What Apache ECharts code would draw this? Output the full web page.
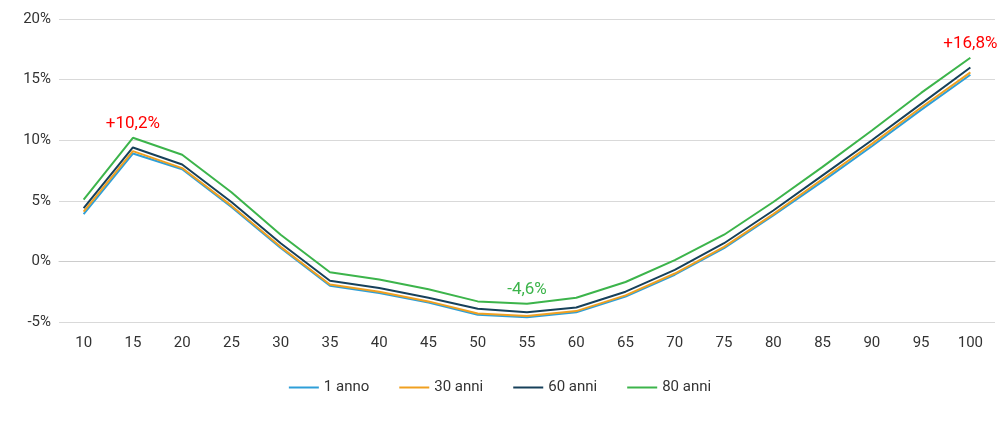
<!DOCTYPE html><html><head><meta charset="utf-8"><script src="https://cdn.jsdelivr.net/npm/echarts@6/dist/echarts.min.js"></script></head><body style="margin:0"><div id="c" style="width:1000px;height:440px"></div><script>
var categories=['10','15','20','25','30','35','40','45','50','55','60','65','70','75','80','85','90','95','100'];
var anno1=[3.9,8.9,7.6,4.5,1.1,-2.0,-2.6,-3.4,-4.4,-4.6,-4.2,-2.9,-1.1,1.1,3.8,6.6,9.5,12.5,15.4];
var anni30=[4.1,9.1,7.7,4.6,1.2,-1.9,-2.5,-3.3,-4.3,-4.5,-4.1,-2.8,-1.0,1.2,3.9,6.8,9.7,12.7,15.6];
var anni60=[4.4,9.4,8.0,4.9,1.5,-1.6,-2.2,-3.0,-3.9,-4.2,-3.8,-2.5,-0.7,1.5,4.2,7.1,10.0,13.0,16.0];
var anni80=[5.1,10.2,8.8,5.7,2.2,-0.9,-1.5,-2.3,-3.3,-3.5,-3.0,-1.7,0.1,2.2,4.9,7.8,10.8,13.9,16.8];
var notes={1:['+10,2%','#ff0000'],9:['-4,6%','#3cb44b'],18:['+16,8%','#ff0000']};
var d80=anni80.map(function(v,i){var n=notes[i];return n?{value:v,label:{show:true,position:'top',distance:6,formatter:n[0],color:n[1],fontSize:17,fontFamily:'Roboto'}}:v;});
function s(name,data,color){return {name:name,type:'line',data:data,symbol:'circle',symbolSize:0,showSymbol:true,lineStyle:{width:2,color:color},itemStyle:{color:color}};}
var c=echarts.init(document.getElementById('c'));
c.setOption({animation:false,textStyle:{fontFamily:'Roboto'},
grid:{left:59,right:5,top:19,bottom:118},
legend:{bottom:40,left:'center',itemWidth:30,itemHeight:2,itemGap:30,icon:'rect',textStyle:{fontSize:15,color:'#333'}},
xAxis:{type:'category',data:categories,axisTick:{show:false},axisLine:{lineStyle:{color:'#ccc'}},axisLabel:{fontSize:15,color:'#333',margin:14}},
yAxis:{type:'value',min:-5,max:20,interval:5,axisLabel:{formatter:'{value}%',fontSize:15,color:'#333'},splitLine:{lineStyle:{color:'#d9d9d9'}}},
series:[s('1 anno',anno1,'#2e9fd8'),s('30 anni',anni30,'#f0a020'),s('60 anni',anni60,'#17405a'),s('80 anni',d80,'#3cb44b')]});
</script></body></html>
